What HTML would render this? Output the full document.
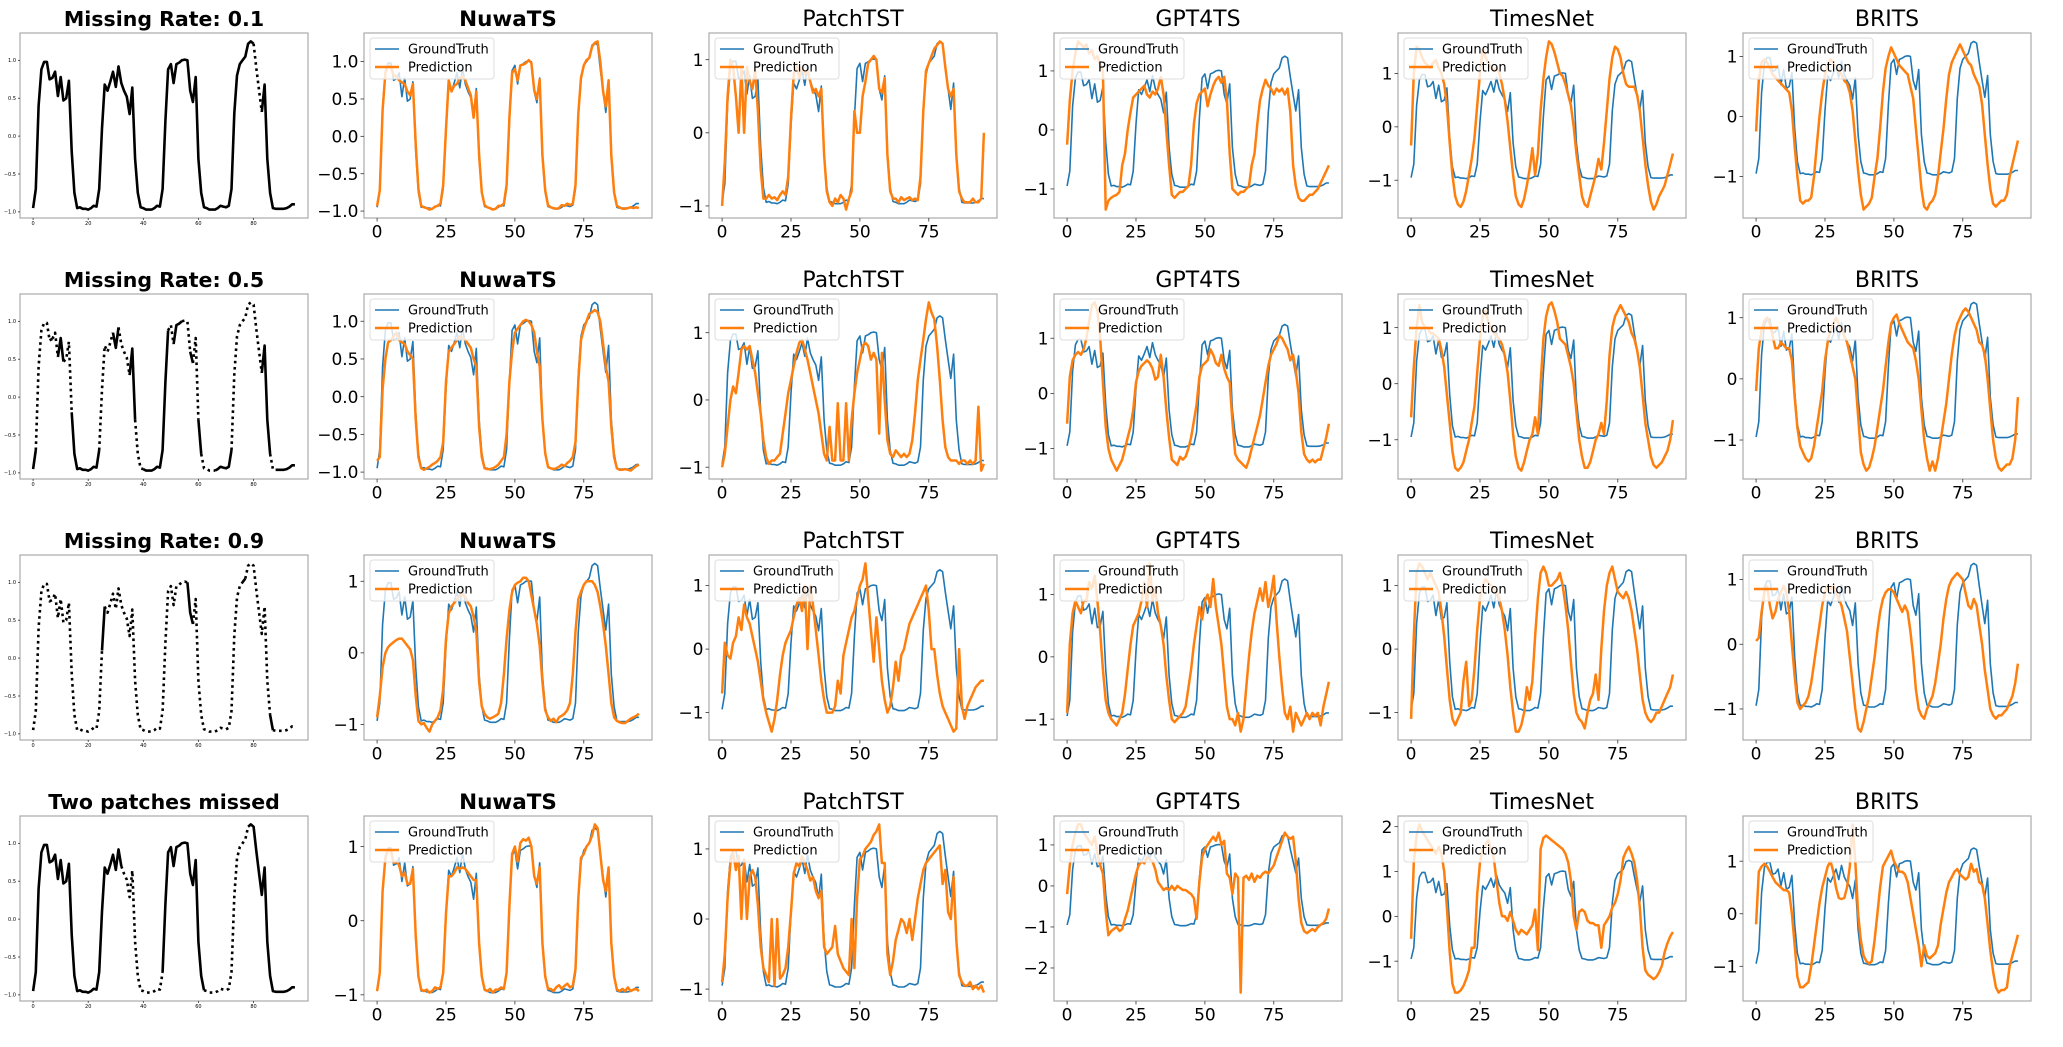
<!DOCTYPE html>
<html><head><meta charset="utf-8">
<style>
html,body{margin:0;padding:0;background:#fff;}
svg{display:block;font-family:"DejaVu Sans","Liberation Sans",sans-serif;}
</style></head>
<body>
<svg id="fig" width="2063" height="1047" viewBox="0 0 2063 1047" xmlns="http://www.w3.org/2000/svg"></svg>
<script>
const gt=[-0.95,-0.7,0.4,0.88,0.98,0.98,0.75,0.77,0.85,0.53,0.78,0.47,
0.5,0.73,-0.2,-0.75,-0.95,-0.94,-0.96,-0.96,-0.97,-0.95,-0.92,-0.93,
-0.7,0.1,0.68,0.6,0.72,0.85,0.65,0.92,0.7,0.6,0.52,0.29,
0.64,-0.3,-0.75,-0.94,-0.95,-0.97,-0.97,-0.97,-0.95,-0.92,-0.93,-0.7,
0.2,0.88,0.95,0.7,0.95,0.97,1.0,1.01,1.0,0.6,0.45,0.78,
-0.3,-0.75,-0.94,-0.95,-0.97,-0.97,-0.97,-0.95,-0.92,-0.93,-0.94,-0.92,
-0.7,0.3,0.8,0.95,1.0,1.05,1.22,1.25,1.22,0.9,0.6,0.32,
0.68,-0.3,-0.75,-0.95,-0.96,-0.96,-0.96,-0.96,-0.95,-0.93,-0.9,-0.9];

const p11=[-0.93,-0.72,0.35,0.85,0.95,0.93,0.82,0.8,0.75,0.72,0.7,0.6,0.55,0.7,-0.1,-0.7,-0.93,-0.95,-0.96,-0.98,-0.97,-0.94,-0.93,-0.9,-0.65,0.1,0.75,0.6,0.68,0.7,0.78,0.8,0.75,0.65,0.55,0.25,0.6,-0.25,-0.75,-0.92,-0.95,-0.96,-0.98,-0.97,-0.93,-0.93,-0.9,-0.65,0.25,0.85,0.9,0.75,0.95,0.96,0.98,1.02,0.98,0.62,0.5,0.76,-0.25,-0.72,-0.92,-0.95,-0.96,-0.97,-0.96,-0.92,-0.93,-0.9,-0.92,-0.9,-0.65,0.3,0.78,0.95,1.02,1.05,1.2,1.25,1.27,1.0,0.6,0.4,0.75,-0.25,-0.75,-0.93,-0.95,-0.97,-0.97,-0.96,-0.95,-0.96,-0.95,-0.96];
const p12=[-1.0,-0.4,0.5,1.0,0.9,0.5,0.0,0.9,0.0,0.9,0.7,0.6,0.85,0.3,-0.5,-0.9,-0.9,-0.85,-0.9,-0.88,-0.92,-0.85,-0.8,-0.85,-0.6,0.2,0.8,0.95,0.75,0.9,0.8,0.85,0.7,0.55,0.6,0.5,0.6,-0.3,-0.8,-0.95,-1.0,-0.9,-0.95,-0.85,-0.9,-1.05,-0.9,-0.8,0.3,0.0,0.0,0.5,0.7,0.95,1.0,1.05,1.0,0.6,0.55,0.75,-0.3,-0.8,-0.9,-0.9,-0.95,-0.88,-0.92,-0.9,-0.88,-0.92,-0.9,-0.92,-0.6,0.3,0.85,0.95,1.05,1.15,1.2,1.25,1.22,0.9,0.6,0.5,0.6,-0.3,-0.8,-0.9,-0.95,-0.95,-0.95,-0.9,-0.95,-0.95,-0.9,0.0];
const p13=[-0.25,0.5,1.0,1.3,1.5,1.45,1.4,1.45,1.3,1.35,1.2,1.25,1.1,1.0,-1.35,-1.2,-1.15,-1.12,-1.1,-1.05,-0.6,-0.4,0.0,0.3,0.55,0.6,0.65,0.7,0.75,0.6,0.55,0.65,0.6,0.7,0.9,0.6,0.0,-0.6,-1.1,-1.15,-1.1,-1.05,-1.05,-1.0,-0.95,-0.6,0.1,0.45,0.6,0.65,0.7,0.4,0.6,0.75,0.85,0.9,0.8,0.9,0.5,-0.4,-1.0,-1.05,-1.1,-1.05,-1.05,-1.0,-0.95,-0.6,-0.4,0.1,0.5,0.7,0.85,0.75,0.7,0.6,0.7,0.65,0.7,0.6,0.7,0.3,-0.6,-0.95,-1.15,-1.2,-1.2,-1.15,-1.1,-1.1,-1.05,-1.0,-0.9,-0.8,-0.7,-0.6];
const p14=[-0.35,1.0,1.5,1.45,1.3,1.2,1.15,1.1,1.2,1.25,1.1,1.0,0.8,0.4,-0.3,-0.9,-1.3,-1.45,-1.5,-1.4,-1.2,-0.9,-0.6,-0.2,0.4,1.0,1.45,1.3,1.2,1.1,1.05,1.1,1.0,0.8,0.5,0.1,-0.4,-0.9,-1.3,-1.45,-1.5,-1.35,-1.1,-0.8,-0.4,-0.9,-0.5,0.3,0.9,1.3,1.6,1.55,1.4,1.2,1.0,0.95,0.8,0.6,0.4,0.0,-0.5,-0.9,-1.3,-1.45,-1.5,-1.3,-1.1,-0.9,-0.6,-0.8,-0.3,0.3,0.9,1.3,1.5,1.45,1.3,1.0,0.8,0.75,0.75,0.75,0.6,0.3,-0.2,-0.7,-1.1,-1.4,-1.55,-1.45,-1.3,-1.2,-1.1,-0.9,-0.7,-0.5];
const p15=[-0.25,0.6,0.9,0.95,0.9,0.8,0.7,0.65,0.6,0.55,0.5,0.45,0.4,0.1,-0.5,-1.0,-1.4,-1.45,-1.4,-1.4,-1.35,-1.0,-0.5,0.0,0.4,0.7,0.85,0.95,0.9,0.8,0.75,0.7,0.6,0.55,0.4,0.1,-0.4,-0.9,-1.3,-1.55,-1.5,-1.45,-1.35,-1.0,-0.7,-0.2,0.4,0.8,1.0,1.15,1.05,0.95,0.85,0.8,0.75,0.7,0.5,0.3,-0.2,-0.7,-1.2,-1.5,-1.55,-1.45,-1.4,-1.3,-1.0,-0.6,-0.2,0.3,0.7,0.9,1.0,1.1,1.2,1.1,1.0,0.9,0.85,0.7,0.6,0.5,0.2,-0.3,-0.8,-1.2,-1.45,-1.5,-1.45,-1.4,-1.4,-1.3,-1.0,-0.8,-0.6,-0.4];

const p21=[-0.85,-0.8,0.1,0.5,0.72,0.75,0.8,0.85,0.75,0.72,0.7,0.6,0.55,0.5,-0.3,-0.8,-0.95,-0.97,-0.95,-0.93,-0.9,-0.88,-0.85,-0.8,-0.6,0.2,0.6,0.65,0.7,0.75,0.8,0.78,0.75,0.7,0.65,0.5,0.4,-0.4,-0.8,-0.95,-0.96,-0.96,-0.95,-0.93,-0.9,-0.85,-0.8,-0.5,0.2,0.6,0.85,0.9,0.95,1.0,1.02,1.0,0.95,0.85,0.6,0.4,-0.3,-0.75,-0.93,-0.95,-0.96,-0.95,-0.93,-0.9,-0.92,-0.88,-0.85,-0.8,-0.6,0.2,0.75,0.9,1.0,1.1,1.12,1.15,1.12,1.0,0.7,0.4,0.2,-0.4,-0.8,-0.95,-0.97,-0.97,-0.96,-0.97,-0.98,-0.95,-0.92,-0.9];
const p22=[-1.0,-0.8,-0.4,0.0,0.2,0.1,0.4,0.75,0.8,0.75,0.8,0.6,0.4,0.1,-0.2,-0.6,-0.85,-0.95,-0.9,-0.9,-0.85,-0.8,-0.5,-0.2,0.1,0.3,0.5,0.7,0.85,0.9,0.75,0.6,0.4,0.2,0.0,-0.2,-0.5,-0.8,-0.9,-0.4,-0.9,-0.9,-0.05,-0.9,-0.9,-0.05,-0.9,-0.3,0.1,0.4,0.6,0.8,0.85,0.8,0.6,0.7,0.6,-0.5,0.7,0.0,-0.6,-0.8,-0.85,-0.75,-0.8,-0.85,-0.8,-0.85,-0.8,-0.6,-0.2,0.3,0.6,0.9,1.2,1.45,1.3,1.2,0.8,0.3,-0.3,-0.7,-0.85,-0.9,-0.9,-0.9,-0.95,-0.9,-0.9,-0.95,-0.9,-0.95,-0.9,-0.1,-1.05,-0.95];
const p23=[-0.55,0.3,0.6,0.7,0.75,0.7,0.8,1.0,1.3,1.6,1.65,1.5,1.0,0.2,-0.6,-1.0,-1.2,-1.3,-1.4,-1.3,-1.2,-1.0,-0.8,-0.6,-0.3,0.2,0.4,0.5,0.55,0.6,0.55,0.45,0.25,0.3,0.7,0.3,-0.3,-0.8,-1.2,-1.25,-1.3,-1.15,-1.2,-1.15,-1.0,-0.8,-0.5,-0.2,0.3,0.5,0.55,0.6,0.8,0.7,0.55,0.5,0.7,0.45,0.3,0.2,-0.5,-1.1,-1.2,-1.25,-1.3,-1.35,-1.2,-1.0,-0.8,-0.6,-0.4,-0.1,0.2,0.5,0.7,0.8,0.9,1.05,1.0,0.9,0.8,0.6,0.7,0.4,0.0,-0.7,-1.1,-1.2,-1.25,-1.2,-1.25,-1.2,-1.2,-1.0,-0.8,-0.55];
const p24=[-0.6,0.3,1.0,1.4,1.1,1.0,1.0,0.9,0.9,0.85,0.8,0.6,0.3,-0.2,-0.7,-1.2,-1.5,-1.55,-1.5,-1.4,-1.2,-1.0,-0.7,-0.4,0.2,0.8,1.2,1.3,1.1,1.0,0.9,0.85,0.8,0.7,0.5,0.2,-0.3,-0.9,-1.3,-1.5,-1.55,-1.4,-1.2,-1.0,-0.9,-0.6,-0.9,0.0,0.8,1.2,1.4,1.45,1.3,1.1,0.8,0.75,0.7,0.5,0.3,0.0,-0.5,-1.0,-1.3,-1.5,-1.5,-1.4,-1.2,-1.0,-0.9,-0.7,-0.9,-0.3,0.5,1.0,1.2,1.3,1.4,1.3,1.2,1.1,0.9,0.8,0.6,0.3,-0.2,-0.7,-1.0,-1.3,-1.45,-1.5,-1.45,-1.4,-1.3,-1.2,-1.0,-0.65];
const p25=[-0.2,0.5,0.8,0.95,1.0,0.9,0.7,0.5,0.5,0.6,0.55,0.5,0.5,0.3,-0.3,-0.8,-1.1,-1.2,-1.3,-1.35,-1.3,-1.1,-0.8,-0.5,-0.2,0.3,0.6,0.8,0.9,1.0,0.9,0.8,0.7,0.6,0.4,0.2,0.0,-0.6,-1.2,-1.4,-1.5,-1.45,-1.3,-1.1,-0.8,-0.5,-0.2,0.2,0.6,0.9,1.0,1.05,0.9,0.8,0.7,0.6,0.55,0.5,0.3,0.0,-0.5,-1.0,-1.3,-1.5,-1.35,-1.5,-1.3,-1.0,-0.7,-0.4,0.0,0.4,0.7,0.9,1.0,1.1,1.15,1.1,1.0,0.9,0.8,0.6,0.55,0.4,0.0,-0.5,-1.0,-1.3,-1.45,-1.5,-1.45,-1.4,-1.4,-1.3,-1.0,-0.3];

const p31=[-0.9,-0.6,-0.2,0.0,0.08,0.12,0.15,0.18,0.2,0.2,0.15,0.1,0.05,-0.1,-0.6,-0.95,-1.0,-0.98,-1.05,-1.1,-1.0,-0.95,-0.9,-0.8,-0.5,0.2,0.55,0.65,0.7,0.75,0.8,0.82,0.78,0.7,0.65,0.5,0.3,-0.4,-0.75,-0.85,-0.9,-0.92,-0.9,-0.88,-0.85,-0.7,-0.3,0.2,0.6,0.85,0.95,0.98,1.0,1.05,1.05,1.0,0.8,0.6,0.4,0.1,-0.4,-0.8,-0.9,-0.95,-0.92,-0.97,-0.9,-0.88,-0.85,-0.8,-0.7,-0.3,0.3,0.75,0.85,0.95,1.0,1.0,1.0,0.95,0.85,0.65,0.4,0.1,-0.3,-0.7,-0.9,-0.95,-0.97,-0.98,-0.98,-0.95,-0.92,-0.9,-0.88,-0.85];
const p32=[-0.7,0.1,-0.1,-0.15,0.1,0.2,0.5,0.3,0.7,0.5,0.4,0.2,0.0,-0.2,-0.5,-0.8,-1.0,-1.15,-1.3,-1.1,-0.8,-0.4,-0.1,0.1,0.2,0.3,0.5,0.7,0.8,0.6,1.0,0.0,1.0,0.7,0.3,-0.1,-0.5,-0.8,-1.0,-1.0,-1.0,-0.9,-0.5,-0.7,-0.1,0.1,0.3,0.5,0.6,0.8,1.0,1.1,1.35,0.8,0.3,-0.2,0.5,0.0,-0.5,-0.8,-1.0,-0.9,-0.6,-0.2,-0.5,-0.1,0.0,0.2,0.4,0.5,0.6,0.7,0.8,0.9,1.0,0.6,0.0,0.0,-0.4,-0.7,-0.9,-1.0,-1.1,-1.2,-1.3,-1.25,0.0,-0.9,-1.1,-0.9,-0.8,-0.7,-0.6,-0.55,-0.5,-0.5];
const p33=[-0.9,0.2,0.7,0.9,0.8,0.7,0.9,0.9,1.2,1.1,1.3,0.9,0.4,-0.2,-0.7,-0.9,-1.0,-1.05,-1.1,-1.0,-0.9,-0.6,-0.2,0.2,0.5,0.6,0.7,0.9,1.2,0.8,1.5,0.9,1.1,0.7,0.5,0.2,-0.3,-0.7,-1.0,-1.05,-1.0,-0.95,-0.9,-0.8,-0.5,-0.2,0.2,0.5,0.8,0.6,0.9,1.0,0.8,1.25,0.8,0.5,0.2,-0.3,-0.8,-1.0,-1.0,-1.1,-0.9,-1.2,-1.0,-0.5,0.0,0.4,0.7,0.9,1.1,0.9,1.2,0.8,1.0,1.3,0.6,0.0,-0.5,-0.9,-1.0,-0.8,-1.2,-0.9,-1.0,-1.1,-1.0,-0.9,-1.0,-0.9,-0.95,-0.9,-1.1,-0.8,-0.6,-0.4];
const p34=[-1.1,0.2,1.2,1.35,1.3,1.2,1.1,1.2,1.1,1.0,0.9,0.6,0.2,-0.3,-0.8,-1.1,-1.2,-1.1,-1.0,-0.5,-0.2,-0.9,-0.8,-0.3,0.3,0.8,1.0,1.1,1.05,1.0,0.95,0.9,0.8,0.6,0.3,-0.1,-0.6,-1.0,-1.3,-1.3,-1.2,-1.0,-0.6,-0.8,-0.5,0.2,0.8,1.2,1.3,1.2,1.0,1.0,1.05,1.1,1.2,1.0,0.7,0.3,-0.2,-0.7,-1.0,-1.1,-1.15,-1.25,-1.0,-0.8,-0.7,-0.4,-0.8,0.0,0.6,1.0,1.2,1.3,1.1,0.9,0.85,0.8,0.9,0.8,0.6,0.3,0.0,-0.4,-0.8,-1.0,-1.1,-1.15,-1.1,-1.0,-1.0,-0.9,-0.8,-0.7,-0.6,-0.4];
const p35=[0.05,0.1,0.5,0.8,0.9,0.6,0.4,0.5,0.7,0.8,0.9,0.8,0.5,0.0,-0.5,-0.9,-1.0,-0.95,-0.9,-0.8,-0.6,-0.3,0.0,0.3,0.6,0.8,0.9,0.85,0.9,0.8,0.7,0.6,0.4,0.2,-0.2,-0.6,-1.0,-1.3,-1.35,-1.2,-1.0,-0.8,-0.5,-0.2,0.2,0.5,0.7,0.8,0.85,0.85,0.8,0.7,0.6,0.5,0.6,0.5,0.2,-0.2,-0.7,-1.0,-1.1,-1.15,-1.0,-0.9,-0.8,-0.6,-0.3,0.0,0.4,0.7,0.9,1.0,1.05,1.1,1.05,1.0,0.8,0.6,0.55,0.7,0.6,0.3,0.0,-0.4,-0.7,-1.0,-1.1,-1.15,-1.1,-1.1,-1.05,-1.0,-0.9,-0.8,-0.6,-0.3];

const p41=[-0.95,-0.7,0.4,0.85,0.95,0.95,0.78,0.8,0.75,0.6,0.65,0.5,0.5,0.7,-0.2,-0.75,-0.93,-0.95,-0.93,-0.97,-0.95,-0.9,-0.92,-0.9,-0.7,0.1,0.6,0.6,0.65,0.72,0.7,0.72,0.7,0.65,0.6,0.55,0.55,-0.3,-0.75,-0.93,-0.95,-0.92,-0.97,-0.93,-0.93,-0.9,-0.92,-0.7,0.2,0.9,1.0,0.8,1.05,1.1,1.08,1.12,1.0,0.6,0.5,0.72,-0.3,-0.75,-0.92,-0.92,-0.95,-0.9,-0.87,-0.92,-0.88,-0.85,-0.9,-0.88,-0.65,0.3,0.85,0.9,1.0,1.05,1.15,1.3,1.25,0.9,0.55,0.4,0.72,-0.3,-0.75,-0.93,-0.95,-0.92,-0.95,-0.9,-0.95,-0.93,-0.92,-0.95];
const p42=[-0.9,-0.5,0.3,0.8,0.95,0.7,0.9,0.0,0.85,0.0,0.6,0.7,0.6,0.2,-0.4,-0.7,-0.8,-0.9,0.0,-0.95,0.0,-0.85,-0.8,-0.7,-0.4,0.1,0.65,0.8,0.75,0.9,0.8,0.7,0.55,0.6,0.4,0.3,0.4,-0.4,-0.5,-0.45,-0.4,-0.1,-0.5,-0.6,-0.7,-0.75,-0.8,0.0,-0.7,0.3,0.85,0.9,1.0,1.05,1.1,1.2,1.25,1.35,0.8,0.8,-0.5,-0.8,-0.6,-0.3,-0.15,0.0,-0.05,-0.2,0.0,-0.3,0.0,0.3,0.5,0.7,0.8,0.85,0.9,0.95,1.0,1.05,0.5,0.7,0.1,0.0,0.6,-0.3,-0.8,-0.9,-0.95,-0.95,-0.9,-1.0,-0.95,-1.0,-0.95,-1.05];
const p43=[-0.2,0.5,1.0,1.3,1.5,1.5,1.3,1.2,1.1,1.0,1.2,0.8,0.5,0.3,-0.6,-1.2,-1.1,-1.05,-1.0,-1.1,-1.05,-0.8,-0.6,-0.3,0.0,0.3,0.5,0.6,0.55,0.7,0.65,0.6,0.4,0.1,0.0,-0.1,-0.05,-0.1,0.0,-0.1,0.0,-0.05,-0.1,-0.1,-0.15,-0.2,-0.3,-0.8,0.1,0.7,0.9,1.0,1.1,1.2,1.1,1.3,1.0,1.1,0.3,0.2,-0.2,0.3,0.2,-2.6,0.2,0.25,0.15,0.3,0.1,0.25,0.2,0.3,0.35,0.3,0.4,0.5,0.7,0.9,1.1,1.3,1.2,1.15,1.2,0.6,-0.3,-0.9,-1.1,-1.15,-1.1,-1.05,-1.1,-1.0,-0.95,-0.9,-0.8,-0.55];
const p44=[-0.5,1.2,1.8,2.05,1.9,1.8,1.7,1.6,1.5,1.4,1.55,1.4,1.0,0.2,-0.8,-1.5,-1.7,-1.7,-1.65,-1.55,-1.4,-1.2,-0.7,-0.7,0.5,1.2,1.5,1.6,1.7,1.5,1.3,0.8,0.3,0.0,0.0,-0.1,0.1,-0.1,-0.3,-0.4,-0.3,-0.35,-0.4,-0.3,-0.2,0.15,-0.75,1.5,1.75,1.8,1.75,1.7,1.65,1.6,1.55,1.5,1.4,1.2,0.8,0.0,-0.3,0.1,0.15,0.1,-0.1,-0.15,-0.15,-0.2,-0.2,-0.7,-0.2,-0.1,0.0,0.2,0.3,0.5,0.8,1.3,1.45,1.55,1.4,1.2,0.8,0.2,-0.7,-1.2,-1.3,-1.35,-1.4,-1.35,-1.25,-1.1,-0.8,-0.6,-0.45,-0.35];
const p45=[-0.2,0.8,0.9,0.95,0.9,0.8,0.7,0.6,0.55,0.5,0.45,0.45,0.4,0.0,-0.6,-1.2,-1.4,-1.4,-1.35,-1.3,-1.0,-0.6,-0.2,0.2,0.5,0.7,0.9,1.0,0.8,0.5,0.3,0.28,0.3,0.5,0.9,1.7,1.0,0.0,-0.5,-0.8,-0.9,-0.95,-0.9,-0.5,0.0,0.5,0.9,1.0,1.1,1.2,1.0,0.9,0.8,0.8,0.75,0.6,0.3,0.0,-0.3,-0.6,-1.0,-0.6,-0.8,-0.85,-0.8,-0.75,-0.6,-0.2,0.1,0.4,0.6,0.7,0.8,0.85,0.75,0.7,0.65,0.7,0.95,0.8,0.85,0.6,0.55,0.3,-0.2,-0.7,-1.1,-1.4,-1.5,-1.45,-1.45,-1.4,-1.0,-0.8,-0.6,-0.4];

const mask1="111111111111111111111111111111111111111111111111111111111111111111111111111111111001111111111111";
const mask2="110000110111001111111111100001110001110011111111110111100110110000111111100000000001111011111111";
const mask3="000000000000000000000000011000000000000000000000000000001110000000000000000011000000001100000000";
const mask4="111111111111111111111111111111111000000000000001111111111111111000000000000000111111111111111111";

const rowTitles=["Missing Rate: 0.1","Missing Rate: 0.5","Missing Rate: 0.9","Two patches missed"];
const modelNames=["NuwaTS","PatchTST","GPT4TS","TimesNet","BRITS"];
const xTicks=[0,25,50,75];
const xTicksMask=[0,20,40,60,80];
const yTicksMask=[-1,-0.5,0,0.5,1];
const yTicksFine=[-1,-0.5,0,0.5,1];
const yTicksUnit=[-1,0,1];
const yTicksGpt4=[-2,-1,0,1];
const yTicksTimes4=[-1,0,1,2];
const masks=[mask1,mask2,mask3,mask4];
const preds=[[p11,p12,p13,p14,p15],[p21,p22,p23,p24,p25],[p31,p32,p33,p34,p35],[p41,p42,p43,p44,p45]];
const yTickSets=[
 [yTicksFine,yTicksUnit,yTicksUnit,yTicksUnit,yTicksUnit],
 [yTicksFine,yTicksUnit,yTicksUnit,yTicksUnit,yTicksUnit],
 [yTicksUnit,yTicksUnit,yTicksUnit,yTicksUnit,yTicksUnit],
 [yTicksUnit,yTicksUnit,yTicksGpt4,yTicksTimes4,yTicksUnit]];

const NS="http://www.w3.org/2000/svg";
const svg=document.getElementById('fig');
const colLeft=[20,364,709,1054,1398,1743];
const rowTop=[33,294,555,816];
const W=288,H=185;

function mk(tag,attrs,parent){
  const e=document.createElementNS(NS,tag);
  for(const k in attrs) e.setAttribute(k,attrs[k]);
  parent.appendChild(e);
  return e;
}
function fmt(v,dec){
  const s=dec?Math.abs(v).toFixed(1):String(Math.abs(v));
  return (v<0?"\u2212":"")+s;
}
function axes(x0,y0,series){
  let mn=Infinity,mx=-Infinity;
  series.forEach(s=>s.forEach(v=>{if(v<mn)mn=v;if(v>mx)mx=v;}));
  const pad=(mx-mn)*0.05; mn-=pad; mx+=pad;
  const n=gt.length-1;
  const xs=i=>x0+(i+n*0.05)/(n*1.1)*W;
  const ys=v=>y0+(mx-v)/(mx-mn)*H;
  return {xs,ys};
}
function pathOf(arr,ax){
  return arr.map((v,i)=>(i?'L':'M')+ax.xs(i).toFixed(1)+' '+ax.ys(v).toFixed(1)).join(' ');
}
function drawFrame(g,x0,y0){
  const f=mk('rect',{x:x0,y:y0,width:W,height:H,fill:'none',stroke:'#aaa','stroke-width':1.2},g);
  
  
}
function drawTicks(g,ax,x0,y0,xt,yt,fs,dec,len){
  xt.forEach(t=>{
    const x=ax.xs(t);
    mk('line',{x1:x,x2:x,y1:y0+H,y2:y0+H+len,stroke:'#333','stroke-width':0.8},g);
    const tx=mk('text',{x:x,y:y0+H+len+fs*0.95,'font-size':fs,'text-anchor':'middle',fill:'#000'},g);
    tx.textContent=fmt(t,false);
    
    
  });
  yt.forEach(t=>{
    const y=ax.ys(t);
    mk('line',{x1:x0-len,x2:x0,y1:y,y2:y,stroke:'#333','stroke-width':0.8},g);
    const tx=mk('text',{x:x0-len-2,y:y+fs*0.36,'font-size':fs,'text-anchor':'end',fill:'#000'},g);
    tx.textContent=fmt(t,dec);
    
    
  });
}

for(let r=0;r<4;r++){
  {
    const x0=colLeft[0],y0=rowTop[r];
    const g=mk('g',{},svg);
    
    
    const t=mk('text',{x:x0+W/2,y:y0-7,'font-size':20.5,'font-weight':'bold','text-anchor':'middle',fill:'#000'},g);
    t.textContent=rowTitles[r];
    
    
    drawFrame(g,x0,y0);
    const ax=axes(x0,y0,[gt]);
    const m=masks[r];
    let i=0;
    while(i<gt.length-1){
      const solid=m[i]==='1'&&m[i+1]==='1';
      let j=i;
      while(j<gt.length-1&&((m[j]==='1'&&m[j+1]==='1')===solid)) j++;
      const seg=gt.slice(i,j+1);
      const d=seg.map((v,k)=>(k?'L':'M')+ax.xs(i+k).toFixed(1)+' '+ax.ys(v).toFixed(1)).join(' ');
      const p=mk('path',{d:d,fill:'none',stroke:'#000','stroke-width':2.6,'stroke-linejoin':'round'},g);
      if(!solid){p.setAttribute('stroke-dasharray','2.6 3.6');}
      
      
      i=j;
    }
    drawTicks(g,ax,x0,y0,xTicksMask,yTicksMask,5,true,2);
  }
  for(let c=0;c<5;c++){
    const x0=colLeft[c+1],y0=rowTop[r];
    const g=mk('g',{},svg);
    
    
    const t=mk('text',{x:x0+W/2,y:y0-7,'font-size':c===0?21.5:22,'font-weight':c===0?'bold':'normal','text-anchor':'middle',fill:'#000'},g);
    t.textContent=modelNames[c];
    
    
    drawFrame(g,x0,y0);
    const pr=preds[r][c];
    const ax=axes(x0,y0,[gt,pr]);
    const lg=mk('path',{d:pathOf(gt,ax),fill:'none',stroke:'#1f77b4','stroke-width':1.6,'stroke-linejoin':'round'},g);
    
    
    const lp=mk('path',{d:pathOf(pr,ax),fill:'none',stroke:'#ff7f0e','stroke-width':2.5,'stroke-linejoin':'round'},g);
    
    
    drawTicks(g,ax,x0,y0,xTicks,yTickSets[r][c],17,c===0&&r<2,3.5);
    const lgd=mk('g',{},g);
    
    
    mk('rect',{x:x0+6,y:y0+5,width:124,height:41,rx:3,fill:'#fff','fill-opacity':0.8,stroke:'#ddd','stroke-width':1},lgd);
    mk('line',{x1:x0+11,x2:x0+35,y1:y0+16,y2:y0+16,stroke:'#1f77b4','stroke-width':1.6},lgd);
    mk('line',{x1:x0+11,x2:x0+35,y1:y0+34,y2:y0+34,stroke:'#ff7f0e','stroke-width':2.5},lgd);
    const e1=mk('text',{x:x0+44,y:y0+20.5,'font-size':13,fill:'#000'},lgd);
    e1.textContent='GroundTruth';
    
    
    const e2=mk('text',{x:x0+44,y:y0+38.5,'font-size':13,fill:'#000'},lgd);
    e2.textContent='Prediction';
    
    
  }
}
</script>
</body></html>
